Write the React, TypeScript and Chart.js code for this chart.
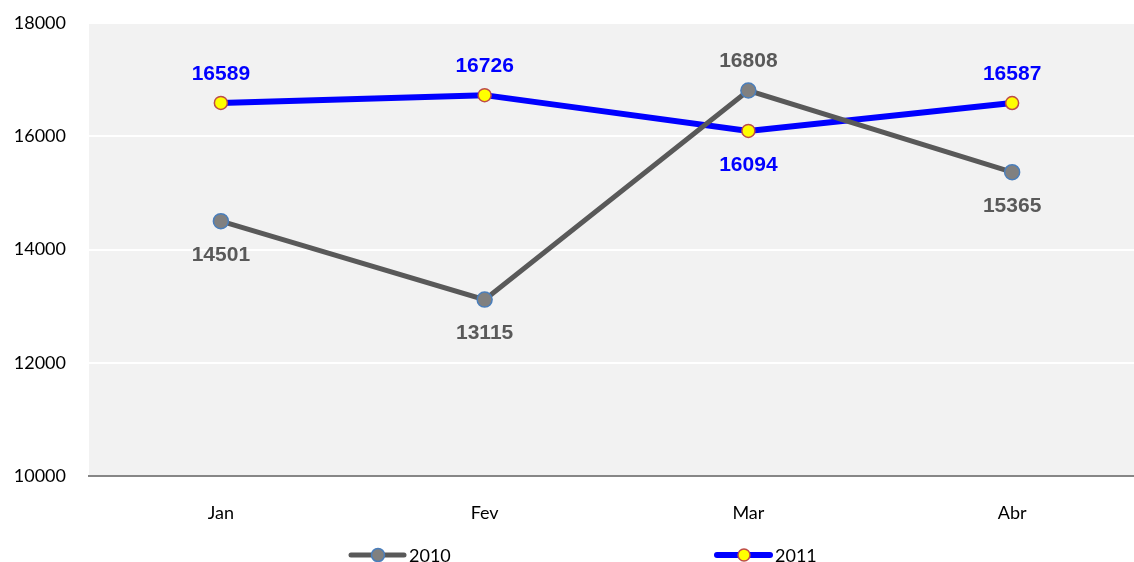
import React, { useEffect, useRef } from "react";
import { Chart, registerables } from "chart.js";

Chart.register(...registerables);

const categories = ["Jan", "Fev", "Mar", "Abr"];
const seriesNames = ["2010", "2011"];
const values2010 = [14501, 13115, 16808, 15365];
const values2011 = [16589, 16726, 16094, 16587];
const labelSide2010 = ["below", "below", "above", "below"];
const labelSide2011 = ["above", "above", "below", "above"];
const yMin = 10000;
const yMax = 18000;
const yStep = 2000;

const GRAY = "#595959";
const BLUE = "#0000ff";

const bgPlugin = {
  id: "plotBg",
  beforeDraw(chart: any) {
    const { ctx, chartArea } = chart;
    ctx.save();
    ctx.fillStyle = "#f2f2f2";
    ctx.fillRect(chartArea.left, chartArea.top, chartArea.right - chartArea.left, chartArea.bottom - chartArea.top);
    ctx.restore();
  },
};

const labelPlugin = {
  id: "dataLabels",
  afterDatasetsDraw(chart: any) {
    const { ctx } = chart;
    ctx.save();
    ctx.font = "bold 21px 'Liberation Sans', Arial, sans-serif";
    ctx.textAlign = "center";
    ctx.textBaseline = "middle";
    chart.data.datasets.forEach((ds: any, di: number) => {
      const meta = chart.getDatasetMeta(di);
      const sides = di === 0 ? labelSide2010 : labelSide2011;
      ctx.fillStyle = di === 0 ? GRAY : BLUE;
      meta.data.forEach((pt: any, i: number) => {
        const up = sides[i] === "above";
        const y = up ? pt.y - 29 : pt.y + 34;
        ctx.fillText(String(ds.data[i]), pt.x, y);
      });
    });
    ctx.restore();
  },
};

const legendPlugin = {
  id: "customLegend",
  afterDraw(chart: any) {
    const { ctx } = chart;
    const items = [
      { x: 349, line: GRAY, lw: 5, fill: "#808080", border: "#4a7ebb", r: 6.5, text: seriesNames[0] },
      { x: 715, line: BLUE, lw: 6, fill: "#ffff00", border: "#be4b48", r: 6, text: seriesNames[1] },
    ];
    const y = 555;
    ctx.save();
    items.forEach((it) => {
      ctx.strokeStyle = it.line;
      ctx.lineWidth = it.lw;
      ctx.lineCap = "round";
      ctx.beginPath();
      ctx.moveTo(it.x + 2, y);
      ctx.lineTo(it.x + 55, y);
      ctx.stroke();
      ctx.beginPath();
      ctx.arc(it.x + 29, y, it.r, 0, Math.PI * 2);
      ctx.fillStyle = it.fill;
      ctx.fill();
      ctx.lineWidth = 1.5;
      ctx.strokeStyle = it.border;
      ctx.stroke();
      ctx.fillStyle = "#000";
      ctx.font = "18px Lato, sans-serif";
      ctx.textAlign = "left";
      ctx.textBaseline = "middle";
      ctx.fillText(it.text, it.x + 60, y + 1);
    });
    ctx.restore();
  },
};

export default function App() {
  const ref = useRef<HTMLCanvasElement | null>(null);
  useEffect(() => {
    if (!ref.current) return;
    const chart = new Chart(ref.current, {
      type: "line",
      data: {
        labels: categories,
        datasets: [
          {
            label: seriesNames[0],
            data: values2010,
            borderColor: GRAY,
            borderWidth: 5,
            pointBackgroundColor: "#808080",
            pointBorderColor: "#4a7ebb",
            pointBorderWidth: 1.5,
            pointRadius: 7.5,
            tension: 0,
          },
          {
            label: seriesNames[1],
            data: values2011,
            borderColor: BLUE,
            borderWidth: 6,
            pointBackgroundColor: "#ffff00",
            pointBorderColor: "#be4b48",
            pointBorderWidth: 1.5,
            pointRadius: 6.5,
            tension: 0,
          },
        ],
      },
      options: {
        responsive: false,
        animation: false,
        devicePixelRatio: 1,
        layout: { padding: { top: 0, left: 0, right: 0, bottom: 0 } },
        plugins: { legend: { display: false }, tooltip: { enabled: false } },
        scales: {
          x: {
            offset: true,
            grid: { display: false, drawTicks: false },
            border: { display: true, color: "#868686", width: 2 },
            ticks: { color: "#000", font: { family: "Lato", size: 18 }, padding: 26 },
            afterFit(scale: any) {
              scale.height = 86;
            },
          },
          y: {
            min: yMin,
            max: yMax,
            ticks: {
              stepSize: yStep,
              color: "#000",
              font: { family: "Lato", size: 18 },
              padding: 23,
              callback: (v: any) => String(v),
            },
            grid: { color: "#ffffff", lineWidth: 2, drawTicks: false },
            border: { display: false },
            afterFit(scale: any) {
              scale.width = 89;
              scale.paddingTop = 23;
            },
          },
        },
      },
      plugins: [bgPlugin, labelPlugin, legendPlugin],
    } as any);
    return () => chart.destroy();
  }, []);
  return (
    <div style={{ position: "fixed", left: 0, top: 0, width: 1134, height: 562, overflow: "hidden", background: "#fff" }}>
      <canvas ref={ref} width={1153} height={562} style={{ width: 1153, height: 562, display: "block" }} />
    </div>
  );
}
